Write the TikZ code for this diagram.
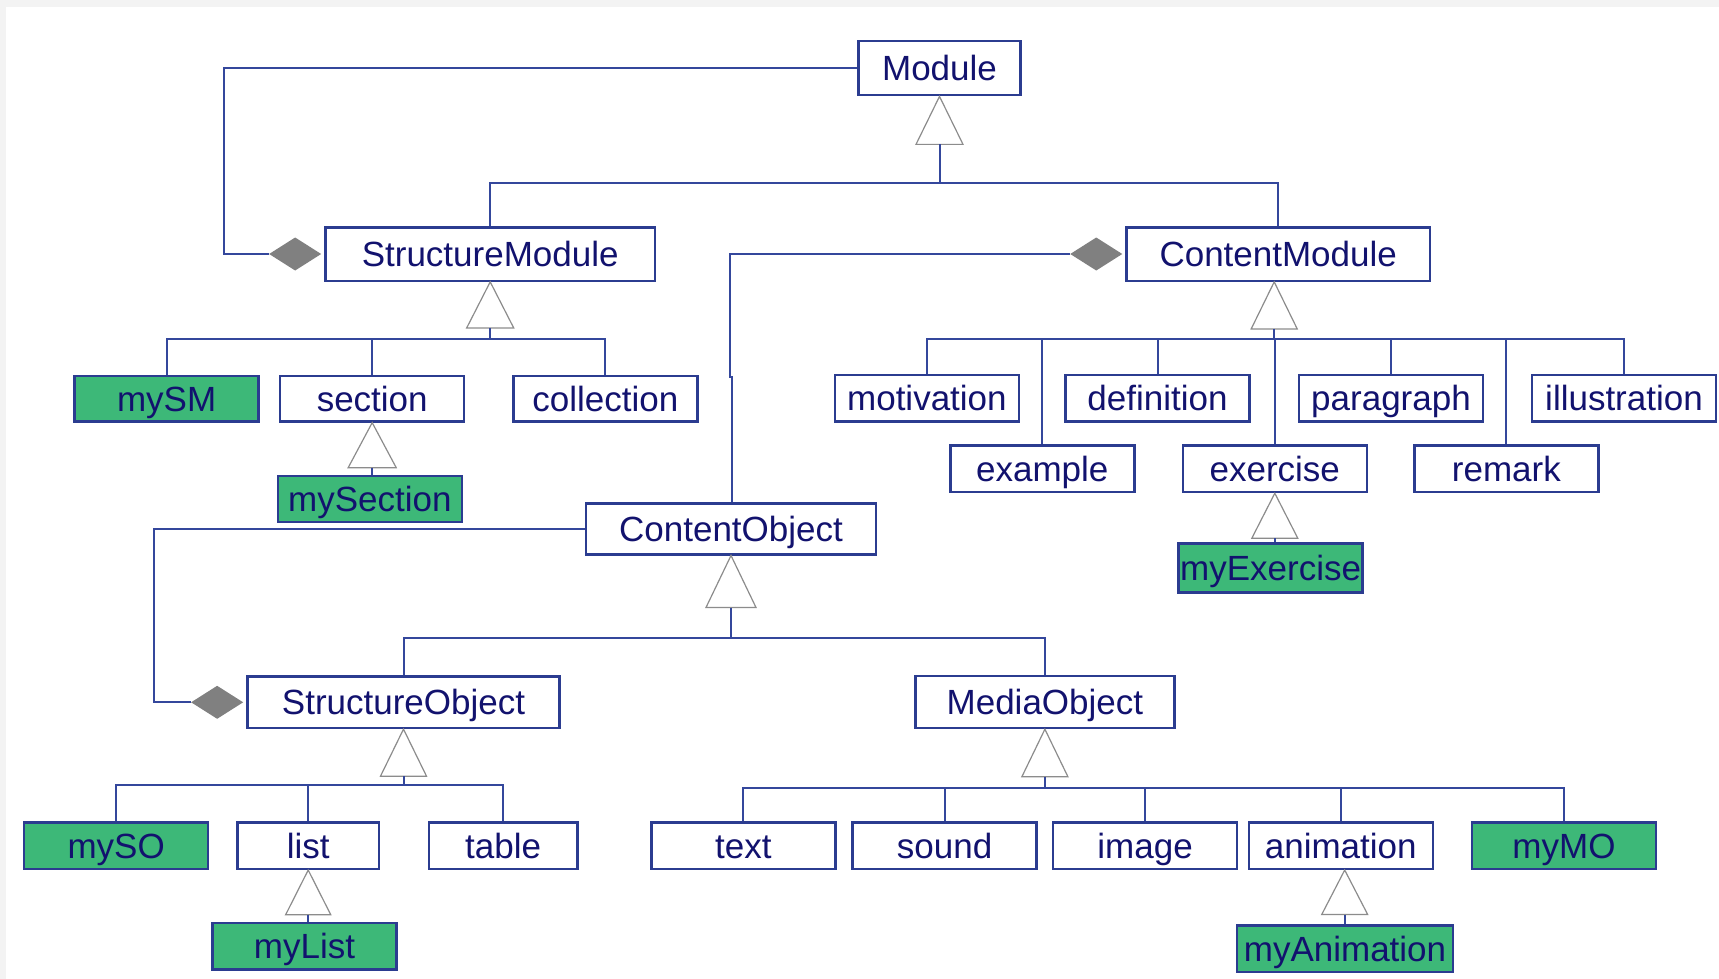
\documentclass[tikz,border=0pt]{standalone}
\usepackage{fontspec}
\setmainfont{Liberation Sans}
\usetikzlibrary{calc}
\definecolor{lineblue}{HTML}{2B3C90}
\definecolor{connblue}{HTML}{34479C}
\definecolor{textblue}{HTML}{12126E}
\definecolor{mygreen}{HTML}{3DB878}
\definecolor{diagray}{HTML}{808080}
\definecolor{trigray}{HTML}{8C8C8C}
\definecolor{bggray}{HTML}{F3F3F3}
% generalization triangle: #1 name of base-mid coordinate, #2 apex, #3 height, #4 width
\newcommand\gentri[4]{%
  \draw[tri] #2 -- ++(-0.5*#4,#3) -- ++(#4,0) -- cycle;
  \coordinate (#1) at ($#2+(0,#3)$);}
% aggregation diamond left of node #2, left tip coordinate named #1
\newcommand\aggdia[2]{%
  \fill[diagray] ($(#2.west)+(-3,0)$) -- ++(-26,-16.5) -- ++(-26,16.5) -- ++(26,16.5) -- cycle;
  \coordinate (#1) at ($(#2.west)+(-55,0)$);}
\begin{document}
\begin{tikzpicture}[x=1pt,y=-1pt,
  box/.style={draw=lineblue, line width=2.4pt, fill=white, text=textblue,
    inner sep=0pt, minimum height=46.5pt, minimum width=184pt,
    text height=25pt, text depth=0pt, font=\fontsize{35}{42}\selectfont},
  gbox/.style={box, fill=mygreen},
  conn/.style={draw=connblue, line width=2pt, line join=miter},
  tri/.style={draw=trigray, fill=white, line width=1.2pt, line join=miter}]
\useasboundingbox (0,0) rectangle (1719,979);
\fill[white] (0,0) rectangle (1719,979);
\fill[bggray] (0,0) rectangle (1719,7.3);
\fill[bggray] (0,0) rectangle (5.7,979);

% nodes
\node[box, minimum width=162pt, minimum height=54pt] (Module) at (939.5,68.2) {Module};
\node[box, minimum width=329.7pt, minimum height=53.4pt] (StructureModule) at (490.2,254) {StructureModule};
\node[box, minimum width=303.5pt, minimum height=53.4pt] (ContentModule) at (1278.2,254) {ContentModule};

\node[gbox, minimum height=45.5pt] (mySM) at (166.6,398.7) {mySM};
\node[box, minimum height=45.5pt] (section) at (372.2,398.7) {section};
\node[box, minimum height=45.5pt] (collection) at (605.3,398.7) {collection};
\node[gbox] (mySection) at (369.8,499) {mySection};

\node[box] (motivation) at (926.9,398.3) {motivation};
\node[box] (definition) at (1157.5,398.3) {definition};
\node[box] (paragraph) at (1391,398.3) {paragraph};
\node[box] (illustration) at (1624,398.3) {illustration};
\node[box] (example) at (1042.3,468.8) {example};
\node[box] (exercise) at (1274.8,468.8) {exercise};
\node[box] (remark) at (1506.4,468.8) {remark};
\node[gbox, minimum height=49pt] (myExercise) at (1270.6,568) {myExercise};

\node[box, minimum width=290pt, minimum height=51pt] (ContentObject) at (731,528.8) {ContentObject};
\node[box, minimum width=312.3pt, minimum height=51.3pt] (StructureObject) at (403.5,702.3) {StructureObject};
\node[box, minimum width=259pt, minimum height=52pt] (MediaObject) at (1044.9,702) {MediaObject};

\node[gbox] (mySO) at (116.2,845.6) {mySO};
\node[box, minimum width=141.2pt] (so-list) at (308.2,845.6) {list};
\node[box, minimum width=148.6pt] (so-table) at (503.1,845.6) {table};
\node[gbox] (myList) at (304.5,946.3) {myList};

\node[box] (mo-text) at (743.4,845.6) {text};
\node[box] (mo-sound) at (944.6,845.6) {sound};
\node[box] (mo-image) at (1145.1,845.6) {image};
\node[box] (mo-animation) at (1340.7,845.6) {animation};
\node[gbox] (myMO) at (1564,845.6) {myMO};
\node[gbox, minimum width=215.6pt] (myAnimation) at (1345,948.7) {myAnimation};

% generalization triangles
\gentri{Mb}{(Module.south)}{48}{47}
\gentri{SMb}{(StructureModule.south)}{46}{47}
\coordinate (CMapex) at ($(ContentModule.south)+(-4,0)$);
\gentri{CMb}{(CMapex)}{47}{46}
\gentri{secb}{(section.south)}{45}{48}
\gentri{exb}{(exercise.south)}{45}{46}
\gentri{COb}{(ContentObject.south)}{52}{50}
\gentri{SOb}{(StructureObject.south)}{47}{46}
\gentri{MOb}{(MediaObject.south)}{47.5}{46}
\gentri{lib}{(so-list.south)}{44.6}{45}
\coordinate (ANapex) at ($(mo-animation.south)+(4,0)$);
\gentri{anb}{(ANapex)}{44.5}{46}

% buses
\coordinate (busM) at ($(Mb)+(0,38.8)$);
\draw[conn] (Mb) -- (busM) -| (StructureModule.north);
\draw[conn] (busM) -| (ContentModule.north);

\coordinate (busSM) at ($(SMb)+(0,10.6)$);
\draw[conn] (SMb) -- (busSM) -| (mySM.north);
\draw[conn] (busSM) -| (section.north);
\draw[conn] (busSM) -| (collection.north);
\draw[conn] (secb) -- (secb |- mySection.north);

\coordinate (busCM) at ($(CMb)+(0,9.6)$);
\draw[conn] (CMb) -- (busCM) -| (motivation.north);
\draw[conn] (busCM) -| (definition.north);
\draw[conn] (busCM) -| (paragraph.north);
\draw[conn] (busCM) -| (illustration.north);
\draw[conn] (busCM) -| (example.north);
\draw[conn] (busCM) -| (exercise.north);
\draw[conn] (busCM) -| (remark.north);
\draw[conn] (exb) -- (exb |- myExercise.north);

\coordinate (busCO) at ($(COb)+(0,30)$);
\draw[conn] (COb) -- (busCO) -| (StructureObject.north);
\draw[conn] (busCO) -| (MediaObject.north);

\coordinate (busSO) at ($(SOb)+(0,9.3)$);
\draw[conn] (SOb) -- (busSO) -| (mySO.north);
\draw[conn] (busSO) -| (so-list.north);
\draw[conn] (busSO) -| (so-table.north);
\draw[conn] (lib) -- (lib |- myList.north);

\coordinate (busMO) at ($(MOb)+(0,11.5)$);
\draw[conn] (MOb) -- (busMO) -| (mo-text.north);
\draw[conn] (busMO) -| (mo-sound.north);
\draw[conn] (busMO) -| (mo-image.north);
\draw[conn] (busMO) -| (mo-animation.north);
\draw[conn] (busMO) -| (myMO.north);
\draw[conn] (anb) -- (anb |- myAnimation.north);

% aggregations
\aggdia{smd}{StructureModule}
\draw[conn] (Module.west) -- ++(-633.7,0) |- (smd);

\aggdia{cmd}{ContentModule}
\coordinate (jog) at (732.3,376.7);
\draw[conn] (cmd) -| ($(jog)+(-2.3,0)$) -- (jog) -- (jog |- ContentObject.north);

\aggdia{sod}{StructureObject}
\draw[conn] (ContentObject.west) -- ++(-431,0) |- (sod);
\end{tikzpicture}
\end{document}
